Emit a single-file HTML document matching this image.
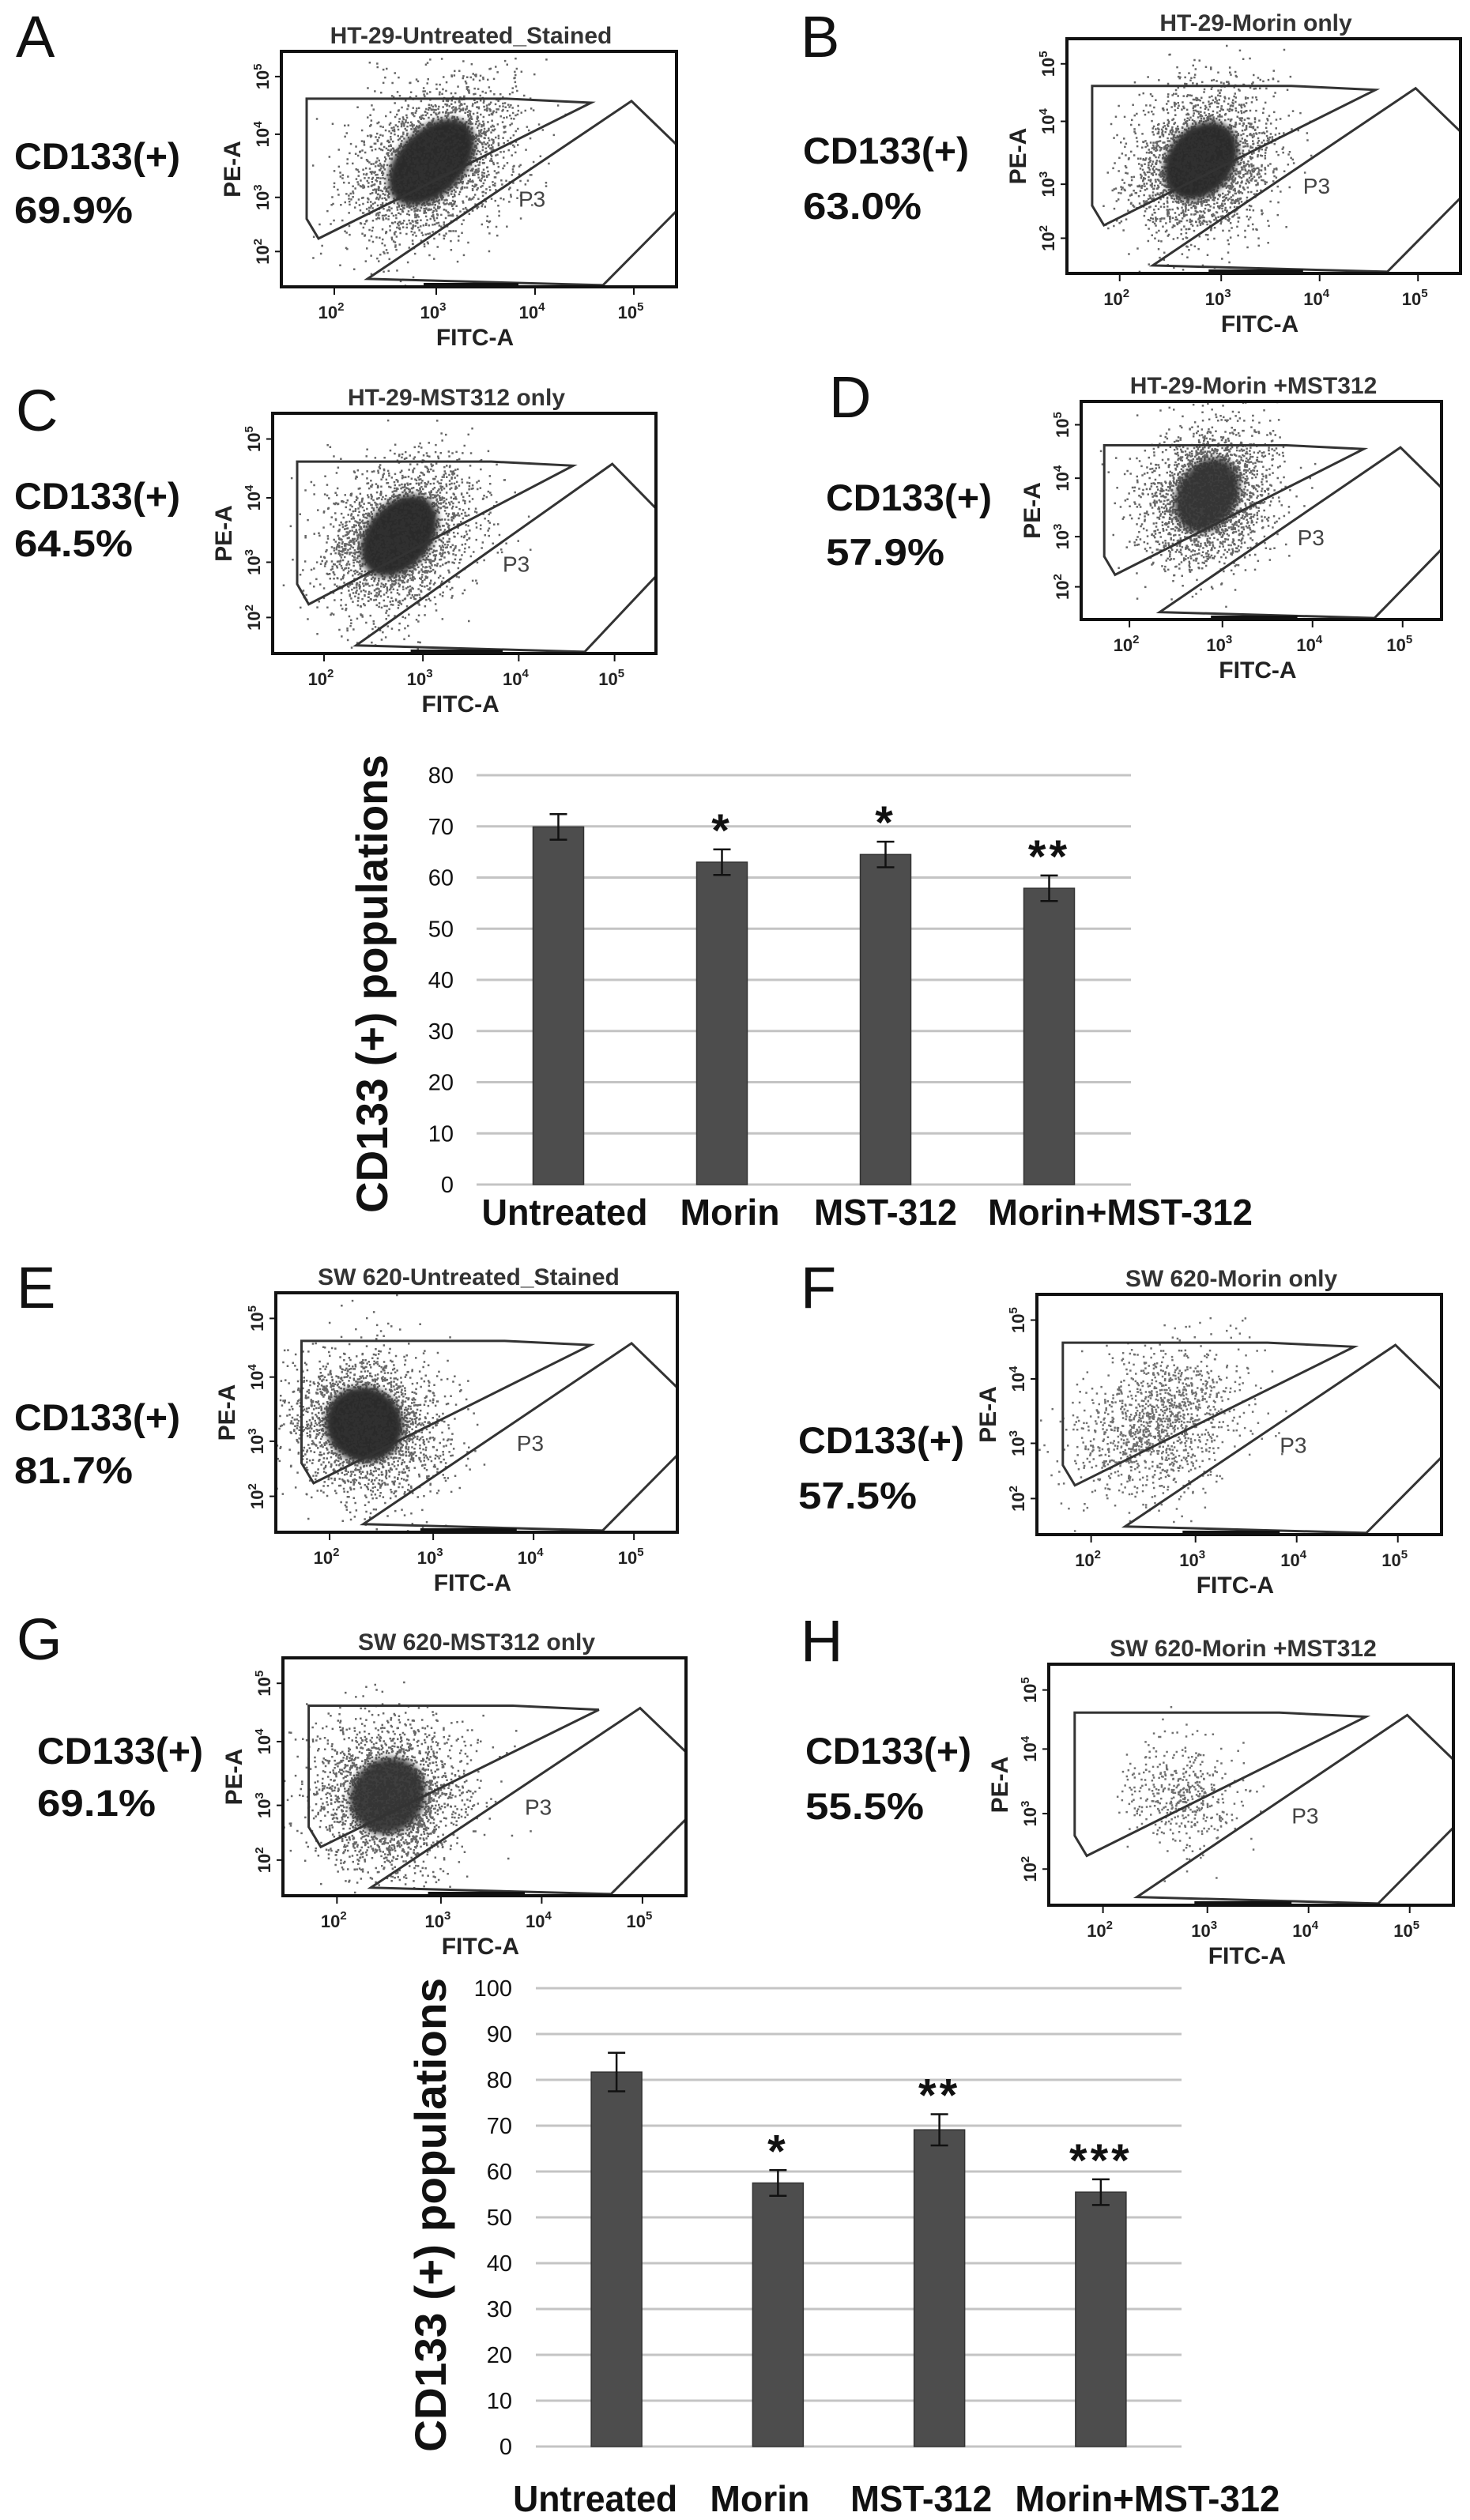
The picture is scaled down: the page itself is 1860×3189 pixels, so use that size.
<!DOCTYPE html>
<html><head><meta charset="utf-8"><title>CD133 populations</title>
<style>
html,body{margin:0;padding:0;background:#fff;overflow:hidden;width:1860px;height:3189px;}
svg{display:block;}
text{font-family:"Liberation Sans",sans-serif;}
</style></head>
<body>
<svg id="fig" xmlns="http://www.w3.org/2000/svg" width="1860" height="3189" viewBox="0 0 1860 3189">
<defs>
<filter id="blur" x="-50%" y="-50%" width="200%" height="200%"><feGaussianBlur stdDeviation="4"/></filter>
</defs>
<rect x="0" y="0" width="1860" height="3189" fill="#fff"/>
<g id="panels"></g>
<g id="chart1"></g>
<g id="chart2"></g>
</svg>
<script>
// ---- Chart data ----
const categories = ["Untreated","Morin","MST-312","Morin+MST-312"];
const ht29Values = [69.9, 63.0, 64.5, 57.9];
const ht29Errors = [2.5, 2.5, 2.5, 2.5];
const ht29Stars = ["", "*", "*", "**"];
const ht29Ticks = [0,10,20,30,40,50,60,70,80];
const sw620Values = [81.7, 57.5, 69.1, 55.5];
const sw620Errors = [4.2, 2.8, 3.4, 2.8];
const sw620Stars = ["", "*", "**", "***"];
const sw620Ticks = [0,10,20,30,40,50,60,70,80,90,100];

const NS = "http://www.w3.org/2000/svg";
function mk(tag, attrs, parent){
  const e = document.createElementNS(NS, tag);
  for (const k in attrs) e.setAttribute(k, attrs[k]);
  parent.appendChild(e);
  return e;
}

function drawBarChart(g, cfg, vals, errs, stars, ticks){
  const yMax = ticks[ticks.length-1];
  const y = v => cfg.y0 - (v/yMax)*(cfg.y0-cfg.yTop);
  const band = (cfg.x1-cfg.x0)/vals.length;
  const xc = i => cfg.x0 + band*(i+0.5);
  ticks.forEach(t=>{
    const l = mk('line',{x1:cfg.x0,x2:cfg.x1,y1:y(t),y2:y(t),stroke:'#c4c4c4','stroke-width':3},g);
    
    
    const tx = mk('text',{x:cfg.tickX,y:y(t)+10,'text-anchor':'end','font-size':29,fill:'#111'},g);
    tx.textContent = t;
    
    
  });
  vals.forEach((v,i)=>{
    const bw = 64;
    const b = mk('rect',{x:xc(i)-bw/2,y:y(v),width:bw,height:y(0)-y(v),fill:'#4d4d4d',stroke:'#333','stroke-width':1.5},g);
    
    
    const top = y(v+errs[i]), bot = y(v-errs[i]);
    const eb = mk('path',{d:`M${xc(i)} ${top}V${bot}M${xc(i)-11} ${top}h22M${xc(i)-11} ${bot}h22`,stroke:'#111','stroke-width':2.5,fill:'none'},g);
    
    
    if (stars[i]){
      const s = mk('text',{x:xc(i),y:top-4,'text-anchor':'middle','font-size':58,'font-weight':'bold',fill:'#111','letter-spacing':4},g);
      s.textContent = stars[i];
      
      
    }
    const lb = mk('text',{x:xc(i)+cfg.labelDx[i],y:cfg.labelY,'text-anchor':'middle','font-size':46,'font-weight':'bold',fill:'#111',textLength:cfg.labelW[i],lengthAdjust:'spacingAndGlyphs'},g);
    lb.textContent = categories[i];
    
    
  });
  const t = mk('text',{x:cfg.titleX,y:cfg.titleY,transform:`rotate(-90 ${cfg.titleX} ${cfg.titleY})`,'text-anchor':'middle','font-size':56,'font-weight':'bold',fill:'#111',textLength:cfg.titleLen,lengthAdjust:'spacingAndGlyphs'},g);
  t.textContent = "CD133 (+) populations";
  
  
}

drawBarChart(document.getElementById('chart1'),
  {x0:603,x1:1431,y0:1499,yTop:981,tickX:574,labelY:1550,labelDx:[8,10,0,90],labelW:[210,126,181,335],titleX:490,titleY:1245,titleLen:580},
  ht29Values, ht29Errors, ht29Stars, ht29Ticks);
drawBarChart(document.getElementById('chart2'),
  {x0:678,x1:1495,y0:3096,yTop:2516,tickX:648,labelY:3178,labelDx:[-27,-23,-23,59],labelW:[208,126,179,335],titleX:564,titleY:2803,titleLen:600},
  sw620Values, sw620Errors, sw620Stars, sw620Ticks);

// ---- Flow cytometry panels (decorative event clouds) ----
const panelDefs = [
 {id:'a',letter:'A',title:'HT-29-Untreated_Stained',box:[356,65,856,363],lx:20,ly:72,cx:18,cy:197,py:265,pct:'69.9%',cloud:[0.38,0.47,0.12,0.055,-45],dense:1},
 {id:'b',letter:'B',title:'HT-29-Morin only',box:[1350,49,1848,346],lx:1013,ly:72,cx:1016,cy:190,py:260,pct:'63.0%',cloud:[0.34,0.52,0.10,0.055,-50],dense:1},
 {id:'c',letter:'C',title:'HT-29-MST312 only',box:[345,523,830,827],lx:20,ly:545,cx:18,cy:627,py:687,pct:'64.5%',cloud:[0.33,0.51,0.11,0.055,-50],dense:1},
 {id:'d',letter:'D',title:'HT-29-Morin +MST312',box:[1368,508,1824,784],lx:1049,ly:528,cx:1045,cy:629,py:698,pct:'57.9%',cloud:[0.35,0.43,0.10,0.055,-60],dense:0.9},
 {id:'e',letter:'E',title:'SW 620-Untreated_Stained',box:[349,1636,857,1939],lx:21,ly:1655,cx:18,cy:1793,py:1860,pct:'81.7%',cloud:[0.22,0.55,0.085,0.065,-60],dense:1.1},
 {id:'f',letter:'F',title:'SW 620-Morin only',box:[1312,1638,1824,1942],lx:1013,ly:1655,cx:1010,cy:1822,py:1892,pct:'57.5%',cloud:[0.30,0.53,0.10,0.05,-35],dense:0},
 {id:'g',letter:'G',title:'SW 620-MST312 only',box:[358,2098,868,2399],lx:21,ly:2100,cx:47,cy:2215,py:2281,pct:'69.1%',cloud:[0.26,0.58,0.09,0.06,-50],dense:0.9},
 {id:'h',letter:'H',title:'SW 620-Morin +MST312',box:[1327,2106,1839,2411],lx:1013,ly:2102,cx:1019,cy:2215,py:2285,pct:'55.5%',cloud:[0.33,0.53,0.06,0.045,-60],dense:-1}
];
let seed = 12345;
function rnd(){ seed|=0; seed=seed+0x6D2B79F5|0; let t=Math.imul(seed^seed>>>15,1|seed); t=t+Math.imul(t^t>>>7,61|t)^t; return ((t^t>>>14)>>>0)/4294967296; }
function gauss(){ return Math.sqrt(-2*Math.log(rnd()+1e-9))*Math.cos(2*Math.PI*rnd()); }

const PG = document.getElementById('panels');
panelDefs.forEach(p=>{
  const g = mk('g',{},PG);
  
  
  const x0=p.box[0], y0=p.box[1], x1=p.box[2], y1=p.box[3], w=x1-x0, h=y1-y0;
  const X = f=>x0+f*w, Y = f=>y0+f*h;
  const L = mk('text',{x:p.lx,y:p.ly,'font-size':74,fill:'#111'},g);
  L.textContent = p.letter;
  
  
  const c1 = mk('text',{x:p.cx,y:p.cy+17,'font-size':47,'font-weight':'bold',fill:'#111',textLength:210,lengthAdjust:'spacingAndGlyphs'},g);
  c1.textContent = 'CD133(+)';
  
  
  const c2 = mk('text',{x:p.cx,y:p.py+17,'font-size':47,'font-weight':'bold',fill:'#111',textLength:150,lengthAdjust:'spacingAndGlyphs'},g);
  c2.textContent = p.pct;
  
  
  const tt = mk('text',{x:X(0.5)-10,y:y0-10,'text-anchor':'middle','font-size':30,'font-weight':'bold',fill:'#333'},g);
  tt.textContent = p.title;
  
  
  const cid='clip'+p.id;
  const cp = mk('clipPath',{id:cid},g);
  mk('rect',{x:x0,y:y0,width:w,height:h},cp);
  const cg = mk('g',{'clip-path':`url(#${cid})`},g);
  
  
  const fx=p.cloud[0], fy=p.cloud[1], sa=p.cloud[2], sb=p.cloud[3], ang=p.cloud[4];
  const ccx=X(fx), ccy=Y(fy), A=sa*w, B=sb*w*1.6, r=ang*Math.PI/180;
  if (p.dense>0){
    mk('ellipse',{cx:ccx,cy:ccy,rx:A*1.1,ry:B*0.95,transform:`rotate(${ang} ${ccx} ${ccy})`,fill:'#2b2b2b',filter:'url(#blur)',opacity:Math.min(1,p.dense)},cg);
  }
  const n = p.dense>0 ? 2500 : (p.dense===0 ? 1300 : 450);
  let d='';
  for(let i=0;i<n;i++){
    const u=gauss()*A*(p.dense>0?1.0:1.1), v=gauss()*B*(p.dense>0?0.95:1.0);
    const px=ccx+u*Math.cos(r)-v*Math.sin(r), py=ccy+u*Math.sin(r)+v*Math.cos(r);
    d+=`M${px.toFixed(1)} ${py.toFixed(1)}h2.5v2.5h-2.5z`;
  }
  mk('path',{d:d,fill:'#333',opacity:p.dense>0?0.75:0.7},cg);
  const P2 = [[0.064,0.201],[0.57,0.201],[0.784,0.218],[0.094,0.795],[0.064,0.711]];
  const P3 = [[0.218,0.966],[0.886,0.211],[1.0,0.396],[1.0,0.678],[0.814,0.993]];
  const pts = arr=>arr.map(q=>X(q[0]).toFixed(1)+','+Y(q[1]).toFixed(1)).join(' ');
  const g2 = mk('polygon',{points:pts(P2),fill:'none',stroke:'#333','stroke-width':3},g);
  
  
  const g3 = mk('polygon',{points:pts(P3),fill:'none',stroke:'#333','stroke-width':3},g);
  
  
  const p3t = mk('text',{x:X(0.6),y:Y(0.66),'font-size':28,fill:'#444'},g);
  p3t.textContent='P3';
  
  
  const bx = mk('rect',{x:x0,y:y0,width:w,height:h,fill:'none',stroke:'#111','stroke-width':4},g);
  
  
  mk('line',{x1:X(0.36),x2:X(0.6),y1:y1-2,y2:y1-2,stroke:'#111','stroke-width':6},g);
  const yt=[[0.107,'5'],[0.352,'4'],[0.62,'3'],[0.85,'2']];
  yt.forEach(q=>{
    const tx0 = x0-16, ty0 = Y(q[0]);
    const t = mk('text',{x:tx0,y:ty0,transform:`rotate(-90 ${tx0} ${ty0})`,'text-anchor':'middle','font-size':22,'font-weight':'bold',fill:'#222'},g);
    
    
    const s1 = mk('tspan',{},t); s1.textContent='10';
    const s2 = mk('tspan',{dy:-9,'font-size':15},t); s2.textContent=q[1];
    mk('line',{x1:x0-8,x2:x0,y1:ty0,y2:ty0,stroke:'#111','stroke-width':2},g);
  });
  const xt=[[0.134,'2'],[0.392,'3'],[0.642,'4'],[0.892,'5']];
  xt.forEach(q=>{
    const t = mk('text',{x:X(q[0])-4,y:y1+40,'text-anchor':'middle','font-size':22,'font-weight':'bold',fill:'#222'},g);
    
    
    const s1 = mk('tspan',{},t); s1.textContent='10';
    const s2 = mk('tspan',{dy:-10,'font-size':15},t); s2.textContent=q[1];
    mk('line',{x1:X(q[0]),x2:X(q[0]),y1:y1,y2:y1+10,stroke:'#111','stroke-width':2},g);
  });
  const xa = mk('text',{x:X(0.49),y:y1+74,'text-anchor':'middle','font-size':30,'font-weight':'bold',fill:'#222'},g);
  xa.textContent='FITC-A';
  
  
  const ax0 = x0-52, ay0 = Y(0.5);
  const ya = mk('text',{x:ax0,y:ay0,transform:`rotate(-90 ${ax0} ${ay0})`,'text-anchor':'middle','font-size':30,'font-weight':'bold',fill:'#222'},g);
  ya.textContent='PE-A';
  
  
});
</script>
</body></html>
